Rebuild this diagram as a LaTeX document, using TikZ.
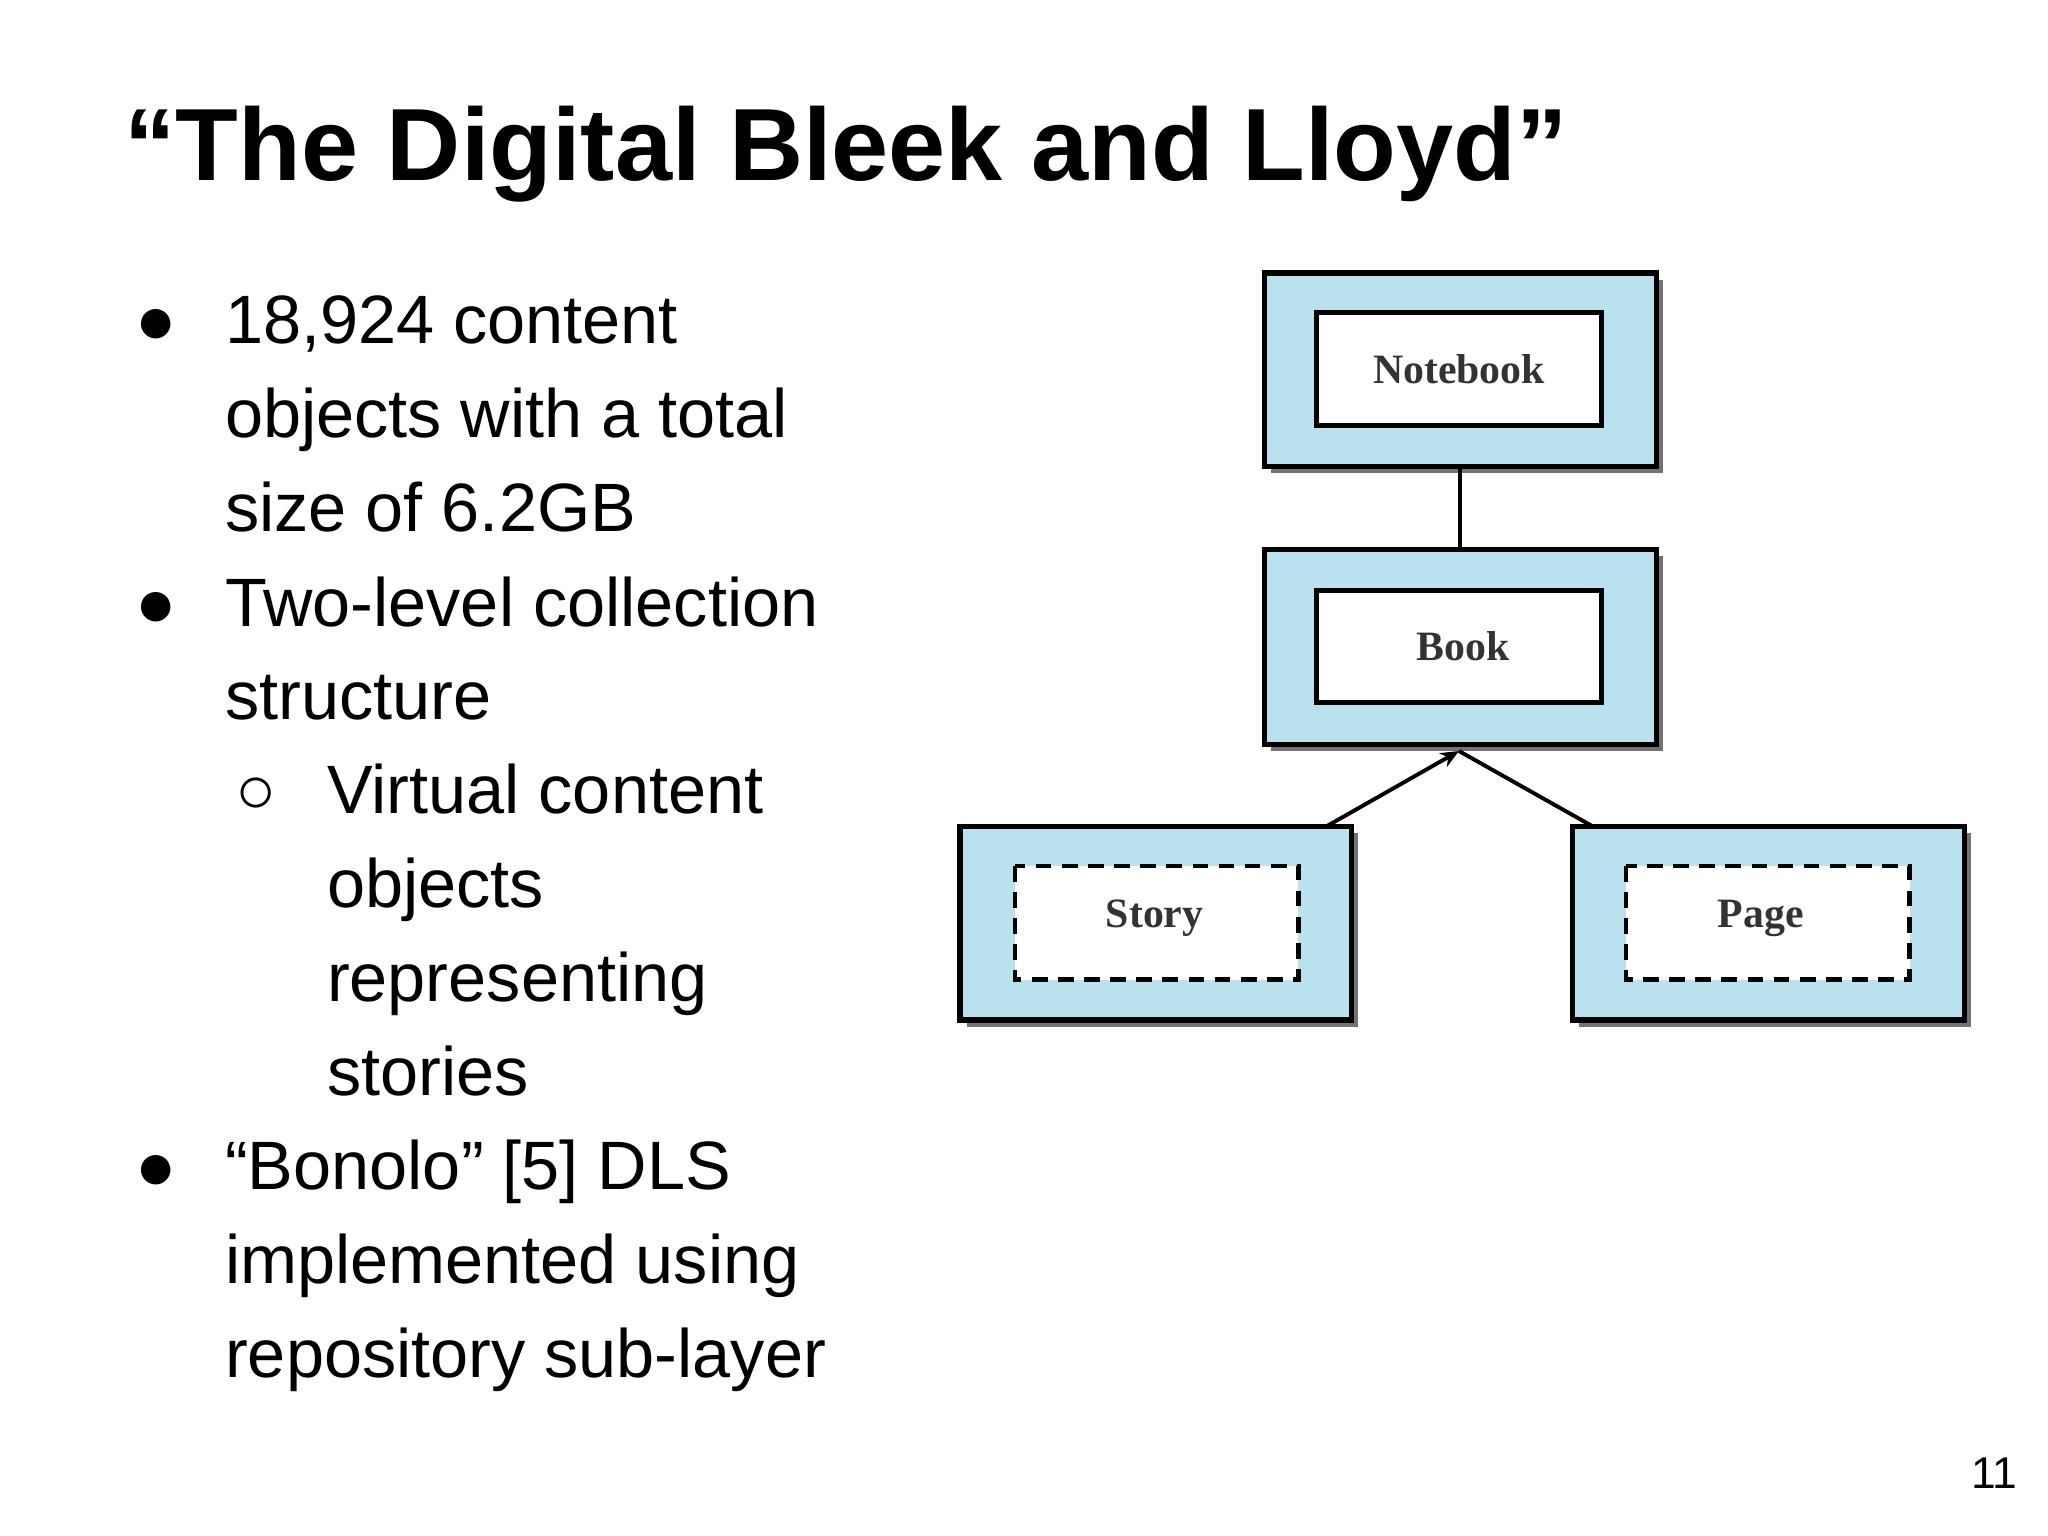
\documentclass[tikz,border=0pt]{standalone}
\usepackage{fontspec}
\setmainfont{Liberation Sans}
\newfontfamily\serifb{Liberation Serif}
\usetikzlibrary{arrows.meta}
\definecolor{boxblue}{HTML}{B9E2EE}
\tikzset{
  outerbox/.style={draw=black, line width=2pt, fill=boxblue},
  shadowbox/.style={fill=black!55},
  innerbox/.style={draw=black, line width=1.8pt, fill=white},
  dashbox/.style={draw=black, line width=1.8pt, fill=white, dash pattern=on 6pt off 4pt},
  blabel/.style={font=\serifb\bfseries\fontsize{16}{19}\selectfont, text=black!80},
  body/.style={anchor=base west, font=\fontsize{26.2}{31}\selectfont, inner sep=0},
  conn/.style={line width=1.5pt}
}
\begin{document}
\begin{tikzpicture}[x=0.5pt,y=-0.5pt]
\useasboundingbox (0,0) rectangle (1568,1176);
\node[anchor=base west, inner sep=0, font=\bfseries\fontsize{39.3}{46}\selectfont] (title) at (95,138) {“The Digital Bleek and Lloyd”};
% bullets
\foreach \y in {263,480,911} \node[body] at (103,\y) {●};
\node[body] at (180,623) {○};
\node[body] (l1) at (172,263) {18,924 content};
\node[body] (l2) at (172,335) {objects with a total};
\node[body] (l3) at (172,407) {size of 6.2GB};
\node[body] (l4) at (172,480) {Two-level collection};
\node[body] (l5) at (172,551) {structure};
\node[body] (l6) at (250,623) {Virtual content};
\node[body] (l7) at (250,695) {objects};
\node[body] (l8) at (250,767) {representing};
\node[body] (l9) at (250,839) {stories};
\node[body] (l10) at (172,911) {“Bonolo” [5] DLS};
\node[body] (l11) at (172,983) {implemented using};
\node[body] (l12) at (172,1055) {repository sub-layer};
\node[anchor=base east, inner sep=0, font=\fontsize{17}{20}\selectfont] (pg) at (1545,1140) {11};
% boxes
\newcommand{\mybox}[5]{%
  \fill[shadowbox] (#1+5,#2+5) rectangle (#3+5,#4+5);
  \draw[outerbox] (#1,#2) rectangle (#3,#4);
  \coordinate (#5top) at ({(#1+#3)/2},#2);
  \coordinate (#5bot) at ({(#1+#3)/2},#4);
}
\mybox{968}{209}{1268}{357}{nb}
\mybox{968}{421}{1268}{570}{bk}
\mybox{735}{633}{1035}{781}{st}
\mybox{1204}{633}{1504}{781}{pa}
\draw[innerbox] (1008,239) rectangle (1226,326);
\draw[innerbox] (1008,452) rectangle (1226,538);
\draw[dashbox] (777,663) rectangle (994,750);
\draw[dashbox] (1245,663) rectangle (1462,750);
\node[blabel] (notebook) at (1117,283) {Notebook};
\node[blabel] (book) at (1120,495) {Book};
\node[blabel] (story) at (884,703) {Story};
\node[blabel] (page) at (1348,703) {Page};
\coordinate (sttop) at (1015,633);
\coordinate (patop) at (1220,633);
\coordinate (bkb) at (1117,575);
\draw[conn] (nbbot) -- (bktop);
\draw[conn,-{Stealth[length=7pt,width=6pt]}] (sttop) -- (bkb);
\draw[conn] (patop) -- (bkb);
\end{tikzpicture}
\end{document}
